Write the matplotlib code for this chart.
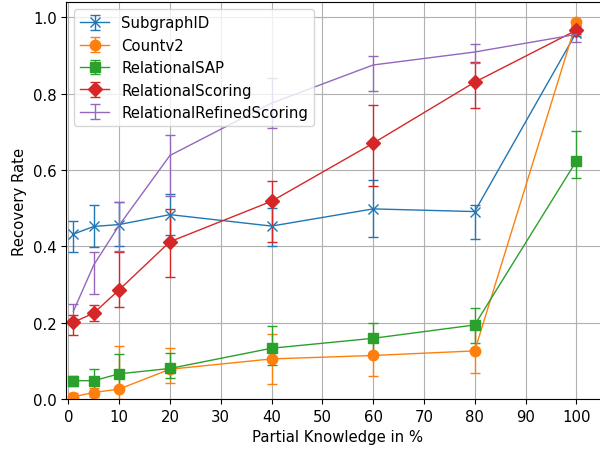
import numpy as np
import matplotlib.pyplot as plt

# Partial knowledge levels (%)
knowledge = np.array([1, 5, 10, 20, 40, 60, 80, 100])

# Mean recovery rate and lower / upper ends of the error bars per attack
subgraph = np.array([0.432, 0.452, 0.457, 0.483, 0.453, 0.498, 0.491, 0.960])
subgraph_lo = np.array([0.386, 0.398, 0.400, 0.430, 0.402, 0.425, 0.419, 0.950])
subgraph_hi = np.array([0.466, 0.509, 0.517, 0.537, 0.500, 0.575, 0.509, 0.970])

countv2 = np.array([0.006, 0.017, 0.026, 0.078, 0.105, 0.114, 0.126, 0.987])
countv2_lo = np.array([0.000, 0.005, 0.000, 0.042, 0.040, 0.061, 0.068, 0.980])
countv2_hi = np.array([0.015, 0.030, 0.140, 0.134, 0.170, 0.167, 0.184, 0.994])

sap = np.array([0.048, 0.048, 0.066, 0.080, 0.133, 0.159, 0.194, 0.623])
sap_lo = np.array([0.035, 0.020, 0.030, 0.055, 0.090, 0.120, 0.147, 0.578])
sap_hi = np.array([0.060, 0.079, 0.118, 0.120, 0.190, 0.199, 0.239, 0.703])

scoring = np.array([0.201, 0.225, 0.286, 0.412, 0.518, 0.670, 0.830, 0.966])
scoring_lo = np.array([0.168, 0.205, 0.241, 0.319, 0.410, 0.559, 0.763, 0.955])
scoring_hi = np.array([0.220, 0.245, 0.386, 0.498, 0.572, 0.769, 0.883, 0.978])

refined = np.array([0.230, 0.351, 0.455, 0.638, 0.775, 0.875, 0.909, 0.955])
refined_lo = np.array([0.210, 0.275, 0.389, 0.533, 0.709, 0.808, 0.881, 0.935])
refined_hi = np.array([0.250, 0.386, 0.517, 0.692, 0.840, 0.898, 0.929, 0.975])

series = [
    ('SubgraphID', subgraph, subgraph_lo, subgraph_hi, 'x'),
    ('Countv2', countv2, countv2_lo, countv2_hi, 'o'),
    ('RelationalSAP', sap, sap_lo, sap_hi, 's'),
    ('RelationalScoring', scoring, scoring_lo, scoring_hi, 'D'),
    ('RelationalRefinedScoring', refined, refined_lo, refined_hi, ''),
]

plt.rcParams['font.size'] = 10.7

fig = plt.figure(figsize=(6, 4.56), dpi=100)
ax = fig.add_axes([66.3 / 600, 56 / 456, 542 / 600, 397 / 456])

for name, mean, lo, hi, marker in series:
    ax.errorbar(knowledge, mean, yerr=[mean - lo, hi - mean], marker=marker,
                markersize=7.5, linewidth=1, capsize=3.5, label=name)

ax.set_xlim(-0.4, 106.3)
ax.set_ylim(0, 1.04)
ax.set_xticks(np.arange(0, 101, 10))
ax.set_xlabel('Partial Knowledge in %')
ax.set_ylabel('Recovery Rate')
ax.grid(True)
ax.legend(loc='upper left')

fig.savefig('out.png', dpi=100)
